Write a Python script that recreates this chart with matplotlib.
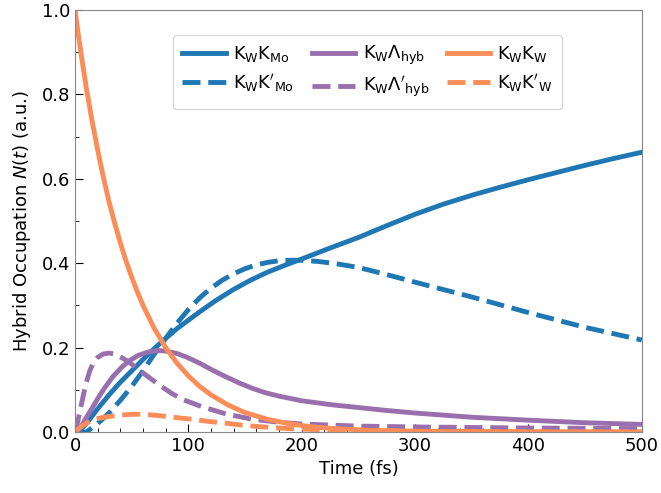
import matplotlib.pyplot as plt
from matplotlib.ticker import MultipleLocator

# values (time in fs, occupation in a.u.)
t_kk_mo = [0, 3, 10, 20, 30, 40, 50, 60, 70, 80, 90, 100, 110, 125, 140, 155, 170, 185,
           200, 225, 250, 275, 300, 325, 350, 375, 400, 425, 450, 475, 500]
n_kk_mo = [0, 0, 0.02, 0.055, 0.088, 0.118, 0.145, 0.172, 0.198, 0.222, 0.245, 0.265, 0.285,
           0.313, 0.338, 0.36, 0.379, 0.395, 0.41, 0.436, 0.461, 0.489, 0.516, 0.54, 0.561,
           0.58, 0.598, 0.615, 0.632, 0.648, 0.663]

t_kkp_mo = [0, 10, 20, 30, 40, 50, 60, 70, 80, 90, 100, 110, 120, 130, 140, 150, 160, 170,
            180, 190, 200, 215, 230, 250, 275, 300, 350, 400, 450, 500]
n_kkp_mo = [0, 0, 0.02, 0.045, 0.075, 0.108, 0.145, 0.185, 0.222, 0.258, 0.29, 0.318, 0.341,
            0.36, 0.375, 0.387, 0.396, 0.402, 0.406, 0.407, 0.407, 0.404, 0.399, 0.39, 0.373,
            0.355, 0.32, 0.283, 0.248, 0.218]

t_kl = [0, 3, 6, 10, 15, 20, 26, 33, 41, 48, 56, 65, 73, 80, 90, 98, 110, 121, 133, 145,
        157, 168, 180, 200, 225, 250, 275, 300, 350, 400, 450, 500]
n_kl = [0, 0.004, 0.016, 0.034, 0.056, 0.079, 0.104, 0.13, 0.153, 0.169, 0.182, 0.19, 0.193,
        0.192, 0.186, 0.178, 0.163, 0.147, 0.131, 0.116, 0.103, 0.093, 0.085, 0.074, 0.065,
        0.058, 0.051, 0.045, 0.035, 0.028, 0.022, 0.018]

t_klp = [0, 2, 4, 6, 8, 10, 13, 16, 20, 25, 30, 35, 40, 47, 55, 65, 75, 85, 95, 112, 133,
         155, 180, 200, 250, 300, 400, 500]
n_klp = [0, 0.02, 0.045, 0.07, 0.095, 0.118, 0.145, 0.163, 0.177, 0.185, 0.187, 0.185, 0.178,
         0.167, 0.15, 0.13, 0.11, 0.092, 0.077, 0.06, 0.043, 0.031, 0.023, 0.019, 0.014, 0.012,
         0.0095, 0.008]

t_kk_w = [0, 3, 6, 10, 15, 20, 25, 30, 35, 40, 45, 50, 55, 60, 70, 80, 90, 100, 110, 120,
          135, 150, 170, 190, 210, 230, 260, 300, 350, 400, 500]
n_kk_w = [1.0, 0.94, 0.885, 0.815, 0.738, 0.668, 0.604, 0.546, 0.495, 0.448, 0.405, 0.367,
          0.332, 0.3, 0.245, 0.2, 0.163, 0.133, 0.108, 0.088, 0.064, 0.046, 0.03, 0.019,
          0.012, 0.008, 0.004, 0.002, 0.001, 0, 0]

t_kkp_w = [0, 5, 10, 15, 20, 30, 40, 50, 60, 70, 80, 90, 104, 118, 133, 148, 163, 189, 210,
           250, 300, 400, 500]
n_kkp_w = [0, 0.012, 0.021, 0.028, 0.032, 0.037, 0.04, 0.042, 0.042, 0.04, 0.037, 0.034, 0.03,
           0.025, 0.021, 0.016, 0.0126, 0.008, 0.006, 0.003, 0.0015, 0.0005, 0]

blue = '#1f77b4'
purple = '#9a6fae'
orange = '#fc8d59'
lw = 3.5

fig = plt.figure(figsize=(6.61, 4.93), dpi=100)
ax = fig.add_axes([0.1135, 0.1237, 0.8575, 0.856])

ax.plot(t_kk_mo, n_kk_mo, color=blue, lw=lw, label=r'$\mathrm{K_WK_{Mo}}$')
ax.plot(t_kkp_mo, n_kkp_mo, color=blue, lw=lw, ls='--', label=r"$\mathrm{K_WK'_{Mo}}$")
ax.plot(t_kl, n_kl, color=purple, lw=lw, label=r'$\mathrm{K_W\Lambda_{hyb}}$')
ax.plot(t_klp, n_klp, color=purple, lw=lw, ls='--', label=r"$\mathrm{K_W\Lambda'_{hyb}}$")
ax.plot(t_kk_w, n_kk_w, color=orange, lw=lw, label=r'$\mathrm{K_WK_W}$')
ax.plot(t_kkp_w, n_kkp_w, color=orange, lw=lw, ls='--', label=r"$\mathrm{K_WK'_W}$")

ax.set_xlim(0, 500)
ax.set_ylim(0, 1.0)
ax.xaxis.set_major_locator(MultipleLocator(100))
ax.xaxis.set_minor_locator(MultipleLocator(20))
ax.yaxis.set_major_locator(MultipleLocator(0.2))
ax.yaxis.set_minor_locator(MultipleLocator(0.1))
ax.tick_params(which='both', direction='in', labelsize=13)
ax.tick_params(which='major', length=6)
ax.tick_params(which='minor', length=3)
for s in ax.spines.values():
    s.set_color('#888888')

ax.set_xlabel('Time (fs)', fontsize=13, labelpad=4)
ax.set_ylabel('Hybrid Occupation $N(t)$ (a.u.)', fontsize=13, labelpad=6)

ax.legend(ncol=3, loc='upper center', bbox_to_anchor=(0.516, 0.941), borderaxespad=0,
          fontsize=13, handlelength=2.4, handletextpad=0.4, columnspacing=1.0,
          labelspacing=0.45, borderpad=0.5)

fig.savefig('out.png', dpi=100)
